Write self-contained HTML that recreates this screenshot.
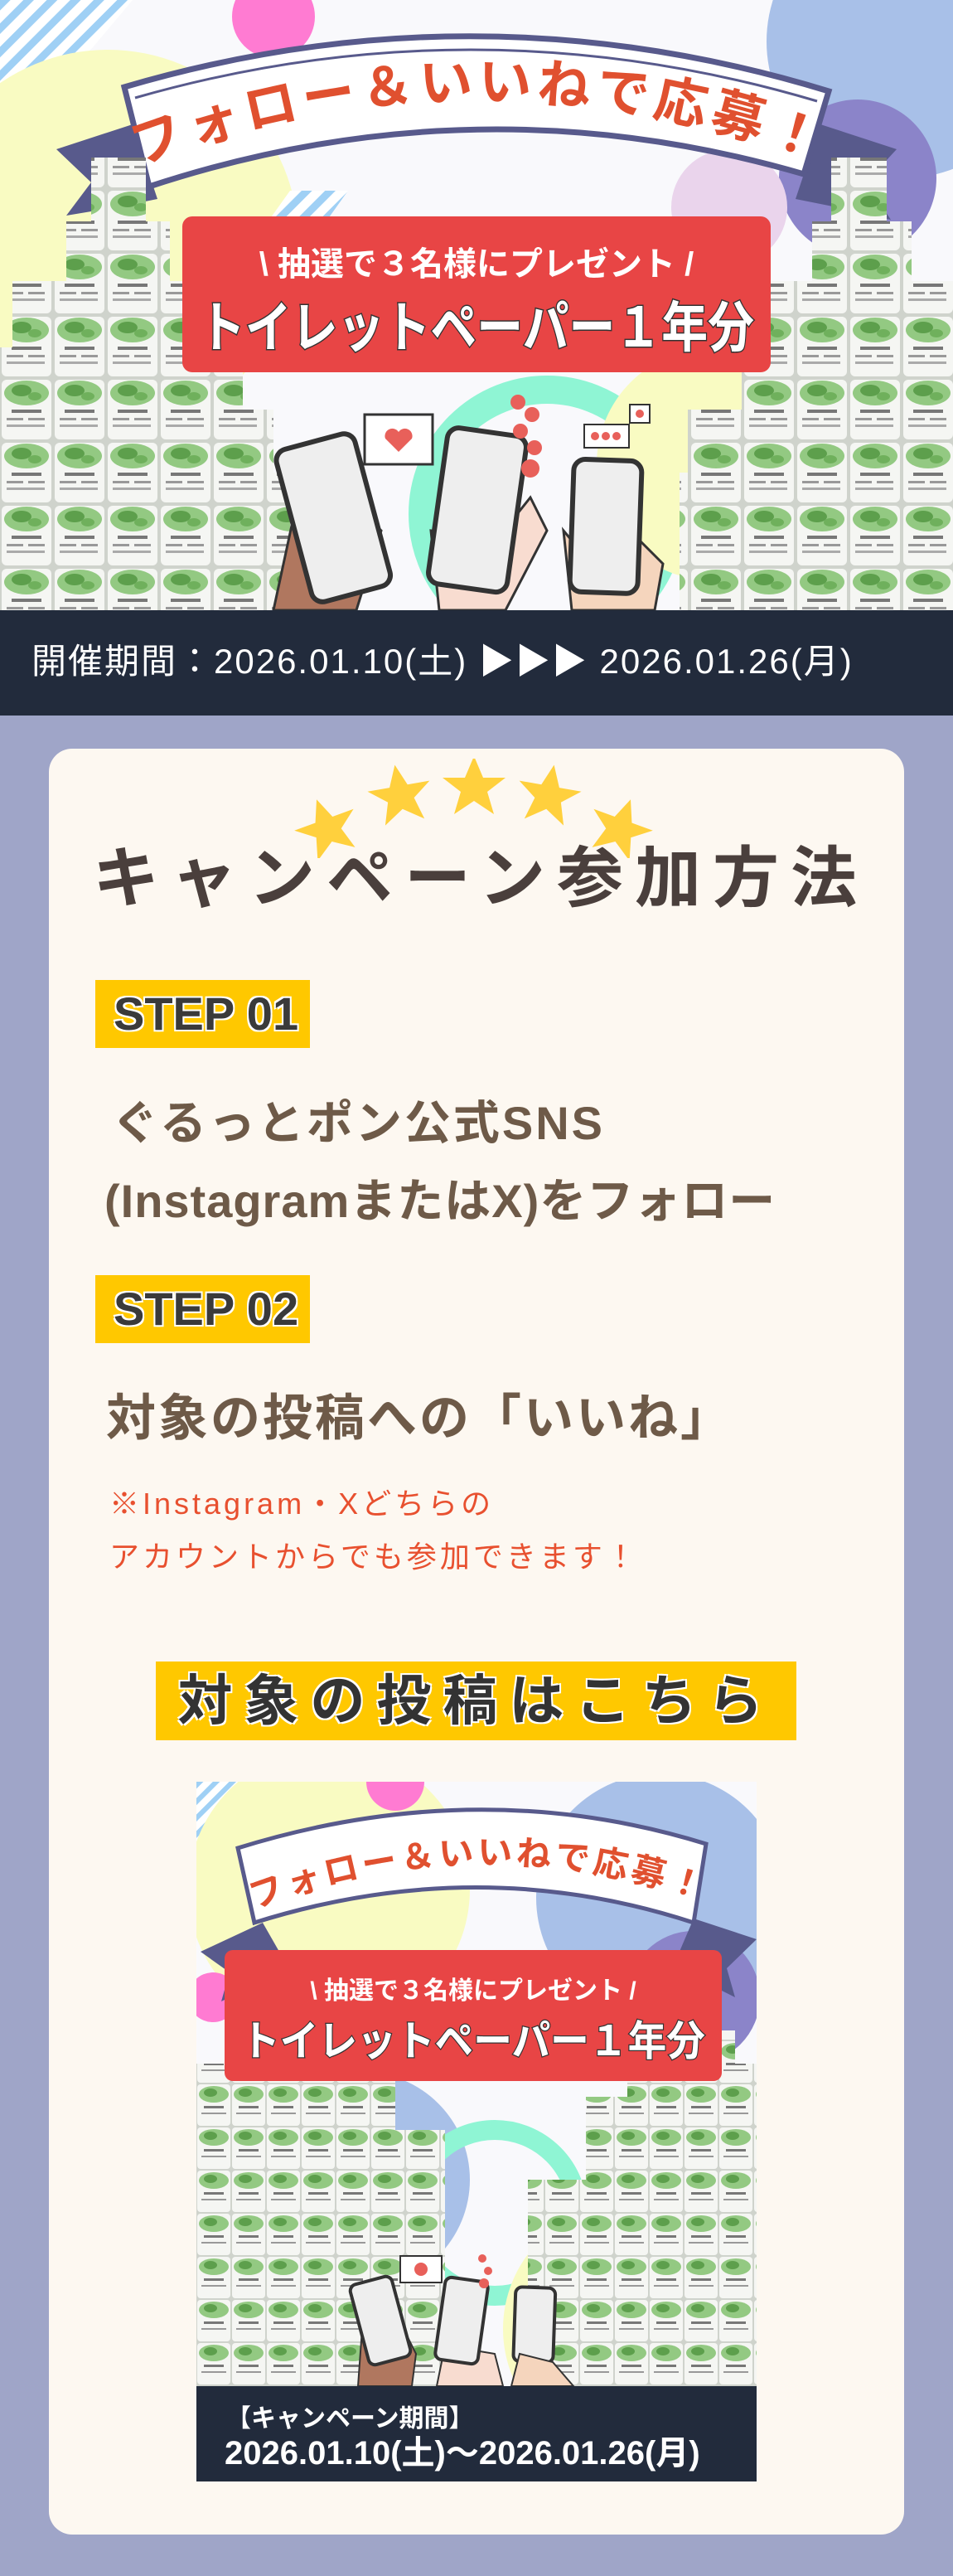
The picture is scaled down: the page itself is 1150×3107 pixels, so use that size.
<!DOCTYPE html>
<html><head><meta charset="utf-8">
<style>
*{margin:0;padding:0;box-sizing:border-box}
html,body{width:1150px;height:3107px;background:#9fa5c8;overflow:hidden}
body{position:relative;font-family:"Liberation Sans","Noto Sans CJK JP",sans-serif}
.abs{position:absolute}
.card{left:59px;top:903px;width:1032px;height:2154px;background:#fdf8f1;border-radius:28px}
.step{background:#ffc800;color:#3a3a3a;font-weight:bold;font-size:56px;line-height:82px;padding-left:22px;text-shadow:2px 2px 0 #fff,-2px -2px 0 #fff,2px -2px 0 #fff,-2px 2px 0 #fff}
.br{color:#6e5a48;font-weight:bold;white-space:nowrap}
.red{color:#e8502f;font-size:36px;white-space:nowrap;letter-spacing:4px}
</style></head><body>

<svg class="abs" style="left:0;top:0" width="1150" height="736" viewBox="0 0 1150 736">
<defs>
<pattern id="st" width="20" height="20" patternUnits="userSpaceOnUse" patternTransform="rotate(45)"><rect width="20" height="20" fill="#fff"/><rect width="9" height="20" fill="#9fd0f5"/></pattern>
<pattern id="roll" width="64" height="76" patternUnits="userSpaceOnUse">
<rect width="64" height="76" fill="#cfd3cc"/><rect x="2" y="2" width="60" height="72" rx="6" fill="#f5f6f3"/>
<ellipse cx="32" cy="18" rx="27" ry="15" fill="#93c982"/><ellipse cx="26" cy="15" rx="12" ry="7" fill="#5d9f4c"/><ellipse cx="42" cy="22" rx="8" ry="5" fill="#6fb05c"/>
<rect x="14" y="38" width="36" height="4" fill="#777"/><rect x="8" y="48" width="20" height="3" fill="#999"/><rect x="34" y="48" width="20" height="3" fill="#999"/><rect x="8" y="56" width="46" height="3" fill="#aaa"/>
</pattern>
</defs>
<rect width="1150" height="736" fill="#f9f9fc"/>
<polygon points="0,0 160,0 0,190" fill="url(#st)"/>
<circle cx="130" cy="290" r="230" fill="#f9fbc2"/>
<circle cx="330" cy="20" r="50" fill="#ff7bd2"/>
<circle cx="1090" cy="50" r="165" fill="#a8c0e8"/>
<circle cx="1035" cy="215" r="95" fill="#8b84c9"/>
<polygon points="350,230 420,230 370,300 300,300" fill="url(#st)"/>
<circle cx="660" cy="620" r="150" fill="none" stroke="#8ff5d4" stroke-width="34"/>
<circle cx="860" cy="560" r="140" fill="#f9fbc2"/>
<circle cx="880" cy="250" r="70" fill="#ead4ec"/>
<polygon points="68,180 160,150 190,240 140,250 80,260 110,220" fill="#585a8c"/>
<polygon points="1082,180 990,150 960,240 1010,250 1075,265 1045,220" fill="#585a8c"/>
<path d="M150,105 Q575,-20 1000,110 L970,210 Q575,95 180,225 Z" fill="#fff" stroke="#585a8c" stroke-width="7"/>
<path d="M163,118 Q575,0 986,122" fill="none" stroke="#585a8c" stroke-width="3"/>
<path id="arc" d="M180,195 Q575,50 975,190" fill="none"/>
<text font-size="64" font-weight="bold" fill="#e0502f" letter-spacing="6" font-family="Liberation Sans,Noto Sans CJK JP,sans-serif"><textPath href="#arc" startOffset="50%" text-anchor="middle">フォロー＆いいねで応募！</textPath></text>
<polygon points="0,736 0,419 15,419 15,339 80,339 80,267 110,267 110,190 176,190 176,267 205,267 205,339 220,339 220,419 293,419 293,494 330,494 330,570 350,570 350,736" fill="url(#roll)"/>
<polygon points="1150,736 1150,339 1100,339 1100,267 1070,267 1070,190 1003,190 1003,267 980,267 980,339 930,339 930,419 895,419 895,494 830,494 830,570 820,570 820,736" fill="url(#roll)"/>
<rect x="220" y="261" width="710" height="188" rx="12" fill="#e84545"/>
<text x="575" y="332" text-anchor="middle" font-size="40" font-weight="bold" fill="#fff" font-family="Liberation Sans,Noto Sans CJK JP,sans-serif">\ 抽選で３名様にプレゼント /</text>
<text x="575" y="418" text-anchor="middle" font-size="66" font-weight="bold" fill="#fff" stroke="#333" stroke-width="3" paint-order="stroke" textLength="670" lengthAdjust="spacingAndGlyphs" font-family="Liberation Sans,Noto Sans CJK JP,sans-serif">トイレットペーパー１年分</text>
<path d="M330,736 L355,620 L420,600 L460,640 L430,736 Z" fill="#b0775f" stroke="#333" stroke-width="3"/>
<g transform="rotate(-15 400 620)"><rect x="352" y="530" width="98" height="190" rx="14" fill="#eee" stroke="#333" stroke-width="6"/></g>
<rect x="440" y="500" width="82" height="60" fill="#fff" stroke="#333" stroke-width="3"/><path d="M481,545 l-16,-16 a9,9 0 0 1 16,-8 a9,9 0 0 1 16,8 z" fill="#e8605a"/>
<path d="M530,736 L520,640 L600,650 L640,600 L660,640 L610,736 Z" fill="#f8dcd0" stroke="#333" stroke-width="3"/>
<g transform="rotate(8 575 615)"><rect x="528" y="520" width="96" height="190" rx="14" fill="#eee" stroke="#333" stroke-width="6"/></g>
<path d="M690,736 L680,640 L730,700 L770,650 L800,680 L790,736 Z" fill="#f5d5bd" stroke="#333" stroke-width="3"/>
<g transform="rotate(2 735 635)"><rect x="690" y="555" width="82" height="160" rx="14" fill="#eee" stroke="#333" stroke-width="6"/></g>
<rect x="705" y="512" width="54" height="28" fill="#fff" stroke="#333" stroke-width="2"/><rect x="760" y="488" width="24" height="22" fill="#fff" stroke="#333" stroke-width="2"/>
<g fill="#e8605a"><circle cx="625" cy="485" r="9"/><circle cx="642" cy="500" r="9"/><circle cx="628" cy="520" r="9"/><circle cx="645" cy="540" r="9"/><circle cx="640" cy="565" r="11"/><circle cx="718" cy="526" r="5"/><circle cx="731" cy="526" r="5"/><circle cx="744" cy="526" r="5"/><circle cx="772" cy="499" r="5"/></g>
</svg>

<div class="abs" style="left:0;top:736px;width:1150px;height:127px;background:#222b3c"></div>
<div class="abs" style="left:38px;top:770px;font-size:42px;color:#fff;white-space:nowrap;line-height:56px;letter-spacing:2px">開催期間：2026.01.10(土) ▶▶▶ 2026.01.26(月)</div>

<div class="abs card"></div>
<svg class="abs" style="left:350px;top:915px" width="450" height="120" viewBox="0 0 450 120">
<g transform="translate(45,85) rotate(-20)"><polygon points="0,-38 11,-12 38,-12 16,5 24,32 0,16 -24,32 -16,5 -38,-12 -11,-12" fill="#ffd03d"/></g>
<g transform="translate(133,45) rotate(-10)"><polygon points="0,-38 11,-12 38,-12 16,5 24,32 0,16 -24,32 -16,5 -38,-12 -11,-12" fill="#ffd03d"/></g>
<g transform="translate(222,35)"><polygon points="0,-38 11,-12 38,-12 16,5 24,32 0,16 -24,32 -16,5 -38,-12 -11,-12" fill="#ffd03d"/></g>
<g transform="translate(312,45) rotate(10)"><polygon points="0,-38 11,-12 38,-12 16,5 24,32 0,16 -24,32 -16,5 -38,-12 -11,-12" fill="#ffd03d"/></g>
<g transform="translate(398,85) rotate(20)"><polygon points="0,-38 11,-12 38,-12 16,5 24,32 0,16 -24,32 -16,5 -38,-12 -11,-12" fill="#ffd03d"/></g>
</svg>
<div class="abs" style="left:100px;top:1010px;width:960px;text-align:center;font-size:80px;font-weight:bold;color:#4a3f3c;letter-spacing:14px;white-space:nowrap;line-height:100px">キャンペーン参加方法</div>

<div class="abs step" style="left:115px;top:1182px;width:259px;height:82px">STEP 01</div>
<div class="abs br" style="left:135px;top:1320px;font-size:56px;line-height:70px;letter-spacing:3px">ぐるっとポン公式SNS</div>
<div class="abs br" style="left:126px;top:1414px;font-size:56px;line-height:70px;letter-spacing:1px">(InstagramまたはX)をフォロー</div>
<div class="abs step" style="left:115px;top:1538px;width:259px;height:82px">STEP 02</div>
<div class="abs br" style="left:128px;top:1675px;font-size:60px;line-height:72px;letter-spacing:3px">対象の投稿への「いいね」</div>
<div class="abs red" style="left:132px;top:1792px;line-height:44px">※Instagram・Xどちらの</div>
<div class="abs red" style="left:132px;top:1856px;line-height:44px">アカウントからでも参加できます！</div>

<div class="abs" style="left:188px;top:2004px;width:773px;height:95px;background:#ffc800;text-align:center;font-size:66px;font-weight:bold;color:#333;letter-spacing:14px;line-height:95px;white-space:nowrap;text-shadow:2px 2px 0 #fff,-2px -2px 0 #fff,2px -2px 0 #fff,-2px 2px 0 #fff">対象の投稿はこちら</div>

<svg class="abs" style="left:237px;top:2149px" width="676" height="844" viewBox="0 0 676 844">
<defs>
<pattern id="st2" width="14" height="14" patternUnits="userSpaceOnUse" patternTransform="rotate(45)"><rect width="14" height="14" fill="#fff"/><rect width="6" height="14" fill="#9fd0f5"/></pattern>
<pattern id="roll2" width="42" height="52" patternUnits="userSpaceOnUse">
<rect width="42" height="52" fill="#cfd3cc"/><rect x="1" y="1" width="40" height="50" rx="4" fill="#f5f6f3"/>
<ellipse cx="21" cy="13" rx="18" ry="10" fill="#93c982"/><ellipse cx="17" cy="11" rx="8" ry="5" fill="#5d9f4c"/>
<rect x="9" y="27" width="24" height="3" fill="#777"/><rect x="6" y="35" width="30" height="2" fill="#999"/>
</pattern>
</defs>
<rect width="676" height="844" fill="#f9f9fc"/>
<polygon points="0,0 100,0 0,120" fill="url(#st2)"/>
<circle cx="160" cy="130" r="170" fill="#f9fbc2"/>
<circle cx="240" cy="0" r="35" fill="#ff7bd2"/>
<circle cx="560" cy="140" r="150" fill="#a8c0e8"/>
<circle cx="600" cy="260" r="80" fill="#8b84c9"/>
<circle cx="290" cy="280" r="60" fill="url(#st2)"/>
<circle cx="20" cy="260" r="30" fill="#ff7bd2"/>
<circle cx="200" cy="480" r="130" fill="#a8c0e8"/>
<circle cx="220" cy="520" r="80" fill="#ead4ec"/>
<circle cx="360" cy="520" r="100" fill="none" stroke="#8ff5d4" stroke-width="24"/>
<circle cx="520" cy="660" r="150" fill="#f9fbc2"/>
<polygon points="5,205 80,170 120,240 60,250 30,265 40,230" fill="#585a8c"/>
<polygon points="676,190 600,165 570,235 620,245 650,260 640,225" fill="#585a8c"/>
<path d="M50,80 Q340,-10 615,75 L600,170 Q340,85 70,170 Z" fill="#fff" stroke="#585a8c" stroke-width="5"/>
<path id="arc2" d="M80,150 Q340,55 600,140" fill="none"/>
<text font-size="42" font-weight="bold" fill="#e0502f" letter-spacing="4" font-family="Liberation Sans,Noto Sans CJK JP,sans-serif"><textPath href="#arc2" startOffset="50%" text-anchor="middle">フォロー＆いいねで応募！</textPath></text>
<polygon points="0,729 0,340 60,340 60,300 75,300 75,260 140,260 140,300 170,300 170,340 240,340 240,420 300,420 300,729" fill="url(#roll2)"/>
<polygon points="676,729 676,340 650,340 650,300 620,300 620,260 550,260 550,300 520,300 520,380 470,380 470,480 400,480 400,729" fill="url(#roll2)"/>
<rect x="34" y="203" width="600" height="158" rx="10" fill="#e84545"/>
<text x="334" y="262" text-anchor="middle" font-size="30" font-weight="bold" fill="#fff" font-family="Liberation Sans,Noto Sans CJK JP,sans-serif">\ 抽選で３名様にプレゼント /</text>
<text x="334" y="330" text-anchor="middle" font-size="50" font-weight="bold" fill="#fff" stroke="#333" stroke-width="2.5" paint-order="stroke" textLength="560" lengthAdjust="spacingAndGlyphs" font-family="Liberation Sans,Noto Sans CJK JP,sans-serif">トイレットペーパー１年分</text>
<path d="M195,729 L200,660 L240,640 L265,690 L260,729 Z" fill="#b0775f" stroke="#333" stroke-width="2"/>
<g transform="rotate(-15 222 650)"><rect x="196" y="600" width="52" height="100" rx="8" fill="#eee" stroke="#333" stroke-width="4"/></g>
<path d="M290,729 L300,680 L360,690 L370,729 Z" fill="#f8dcd0" stroke="#333" stroke-width="2"/>
<g transform="rotate(8 320 650)"><rect x="294" y="600" width="52" height="100" rx="8" fill="#eee" stroke="#333" stroke-width="4"/></g>
<g transform="rotate(2 408 650)"><rect x="384" y="610" width="48" height="90" rx="8" fill="#eee" stroke="#333" stroke-width="4"/></g>
<path d="M380,729 L390,690 L430,700 L455,729 Z" fill="#f5d5bd" stroke="#333" stroke-width="2"/>
<rect x="246" y="572" width="50" height="32" fill="#fff" stroke="#333" stroke-width="2"/>
<g fill="#e8605a"><circle cx="271" cy="588" r="8"/><circle cx="345" cy="575" r="5"/><circle cx="352" cy="590" r="5"/><circle cx="347" cy="605" r="6"/></g>
<rect x="0" y="729" width="676" height="115" fill="#222b3c"/>
<text x="36" y="778" font-size="30" font-weight="bold" fill="#fff" font-family="Liberation Sans,Noto Sans CJK JP,sans-serif">【キャンペーン期間】</text>
<text x="34" y="823" font-size="40" font-weight="bold" fill="#fff" font-family="Liberation Sans,Noto Sans CJK JP,sans-serif">2026.01.10(土)〜2026.01.26(月)</text>
</svg>

</body></html>
